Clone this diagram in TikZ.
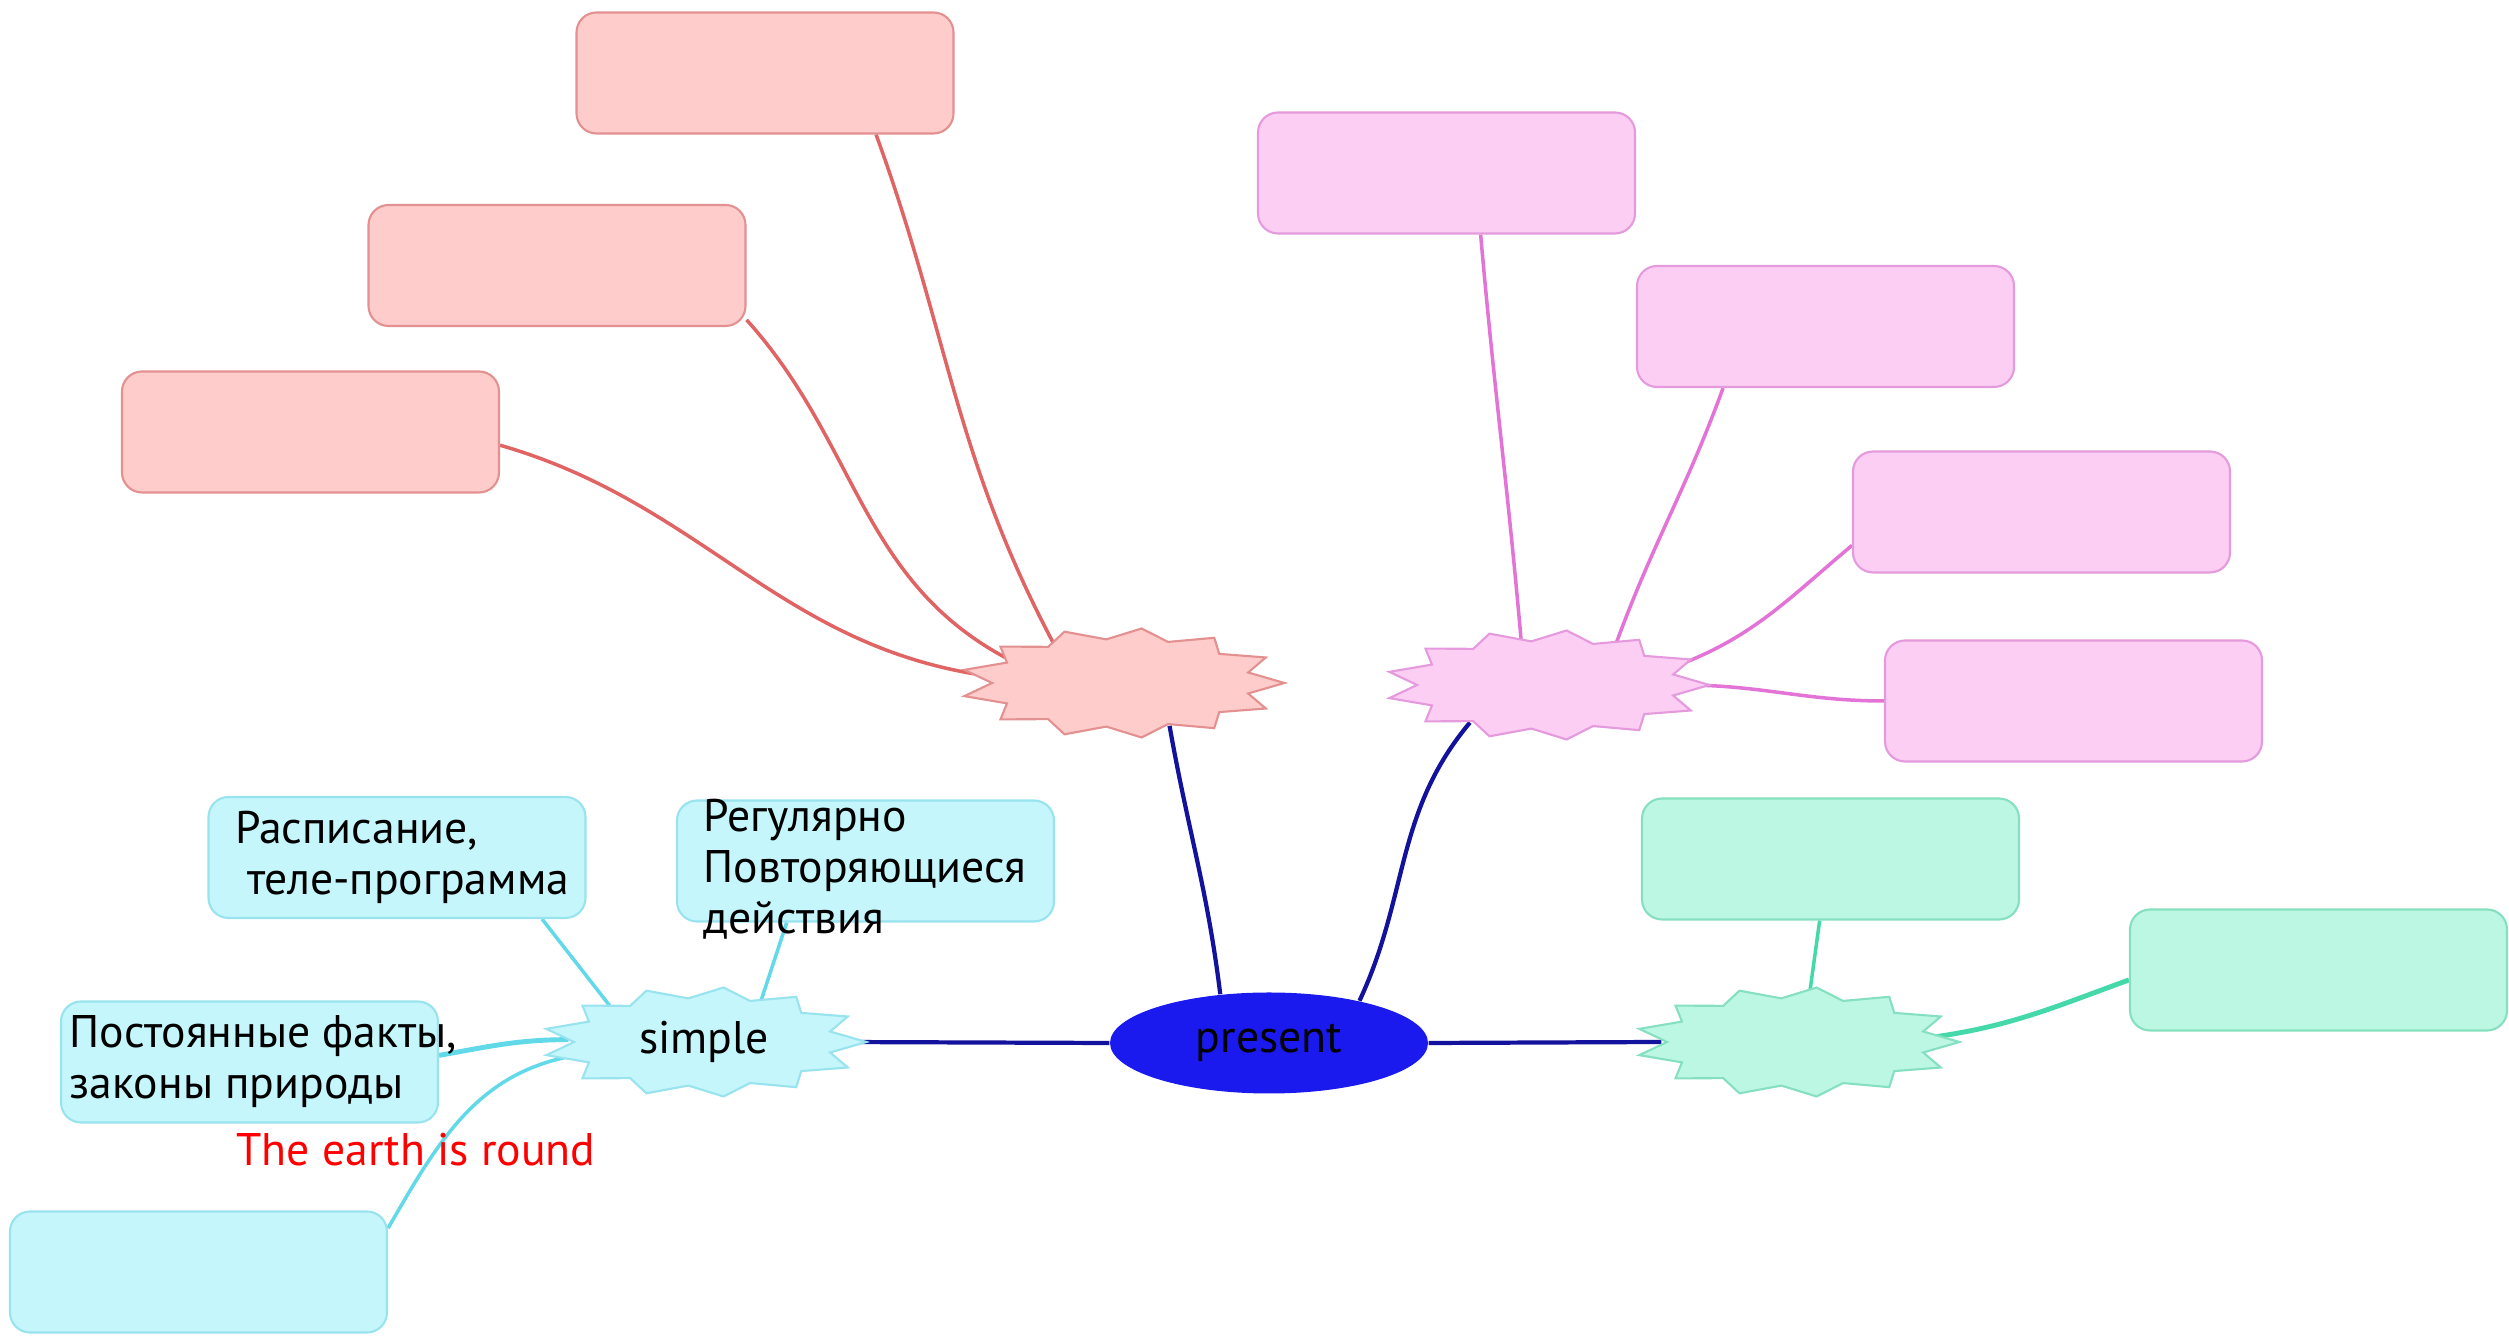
\documentclass[tikz,border=0pt]{standalone}
\usepackage{fontspec}
\setmainfont{PT Sans}
\usetikzlibrary{shapes.geometric,backgrounds}
\definecolor{rdfill}{HTML}{FFCCCC}
\definecolor{rdline}{HTML}{E39090}
\definecolor{rdwire}{HTML}{E06464}
\definecolor{pkfill}{HTML}{FCCEF4}
\definecolor{pkline}{HTML}{E49ADC}
\definecolor{pkwire}{HTML}{E473D8}
\definecolor{cyfill}{HTML}{C5F6FC}
\definecolor{cyline}{HTML}{98E3EE}
\definecolor{cywire}{HTML}{62D9E8}
\definecolor{gnfill}{HTML}{BCF7E4}
\definecolor{gnline}{HTML}{86E0C0}
\definecolor{gnwire}{HTML}{45D9A9}
\definecolor{hubblue}{HTML}{1A1AEE}
\definecolor{hubwire}{HTML}{12129C}
% 13-point star with a named ellipse node inside it
\newcommand{\burst}[4]{%
  \filldraw[draw=#3line, fill=#3fill, line width=0.6pt, shift={(#2)}, xscale=1.624, yscale=0.549]
    (0:1) \foreach \k in {1,...,25} { -- ({\k*360/26}:{1-0.2*mod(\k,2)}) } -- cycle;
  \node[ellipse, minimum width=2.7cm, minimum height=0.9cm, inner sep=0pt] (#1) at (#2) {#4};
}
\begin{document}
\begin{tikzpicture}[
  font=\fontsize{13}{14.5}\selectfont,
  box/.style={draw=#1line, fill=#1fill, rounded corners=0.2cm, line width=0.6pt,
    minimum width=3.77cm, minimum height=1.21cm, inner sep=0pt},
  wire/.style={draw=#1wire, line width=1pt},
  hub/.style={draw=hubwire, line width=1.2pt},
  txt/.style={align=left, inner sep=0pt, anchor=west}
]
\useasboundingbox (0,0) rectangle (25.09,13.40);
% centre
\node[ellipse, fill=hubblue, minimum width=3.18cm, minimum height=1.01cm] (present) at (12.69,2.97) {present};
% stars
\burst{simple}{7.04,2.98}{cy}{simple}
\burst{rstar}{11.22,6.57}{rd}{}
\burst{pstar}{15.47,6.55}{pk}{}
\burst{gstar}{17.97,2.98}{gn}{}
% red boxes
\node[box=rd] (r1) at (7.65,12.67) {};
\node[box=rd] (r2) at (5.57,10.745) {};
\node[box=rd] (r3) at (3.105,9.08) {};
% pink boxes
\node[box=pk] (p1) at (14.465,11.67) {};
\node[box=pk] (p2) at (18.255,10.135) {};
\node[box=pk] (p3) at (20.415,8.28) {};
\node[box=pk] (p4) at (20.735,6.39) {};
% green boxes
\node[box=gn] (g1) at (18.305,4.81) {};
\node[box=gn] (g2) at (23.185,3.70) {};
% cyan boxes
\node[box=cy] (c1) at (3.97,4.825) {};
\node[box=cy] (c2) at (8.655,4.79) {};
\node[box=cy] (c3) at (2.495,2.78) {};
\node[box=cy] (c4) at (1.985,0.68) {};
% texts
\node[txt] (t1) at ([xshift=0.27cm]c1.west) {Расписание,\\~теле-программа};
\node[txt] (t2) at ([xshift=0.27cm,yshift=-0.08cm]c2.west) {Регулярно\\Повторяющиеся\\действия};
\node[txt] (t3) at ([xshift=0.09cm]c3.west) {Постоянные факты,\\законы природы};
\node[text=red, inner sep=0pt] (example) at (4.16,1.90) {The earth is round};
\begin{pgfonlayer}{background}
% links from centre
\draw[hub] (present.west) -- (simple.east);
\draw[hub] (present.east) -- (gstar.west);
\draw[hub] (present.135) to[out=97,in=-80] (rstar.-42);
\draw[hub] (present.25) to[out=65,in=-130] (pstar.-154);
% red links
\draw[wire=rd] (r1.-29) to[out=-70,in=118] (rstar.150);
\draw[wire=rd] (r2.-16) to[out=-48,in=152] (rstar.168);
\draw[wire=rd] (r3.-4) to[out=-16,in=172] (rstar.177);
% pink links
\draw[wire=pk] (p1.-61) to[out=-85,in=95] (pstar.120);
\draw[wire=pk] (p2.-149) to[out=-110,in=70] (pstar.30);
\draw[wire=pk] (p3.190) to[out=-140,in=20] (pstar.8);
\draw[wire=pk] (p4.west) to[out=180,in=0] (pstar.east);
% green links
\draw[wire=gn] (g1.-100) -- (gstar.75);
\draw[wire=gn, line width=1.4pt] (g2.183) to[out=200,in=8] (gstar.2);
% cyan links
\draw[wire=cy] (c1.-23) -- (simple.160);
\draw[wire=cy] (c2.-142) -- (simple.36);
\draw[wire=cy, line width=1.4pt] (c3.2) to[out=10,in=180] (simple.179);
\draw[wire=cy] (c4.13) to[out=60,in=190] (simple.186);
\end{pgfonlayer}
\end{tikzpicture}
\end{document}
